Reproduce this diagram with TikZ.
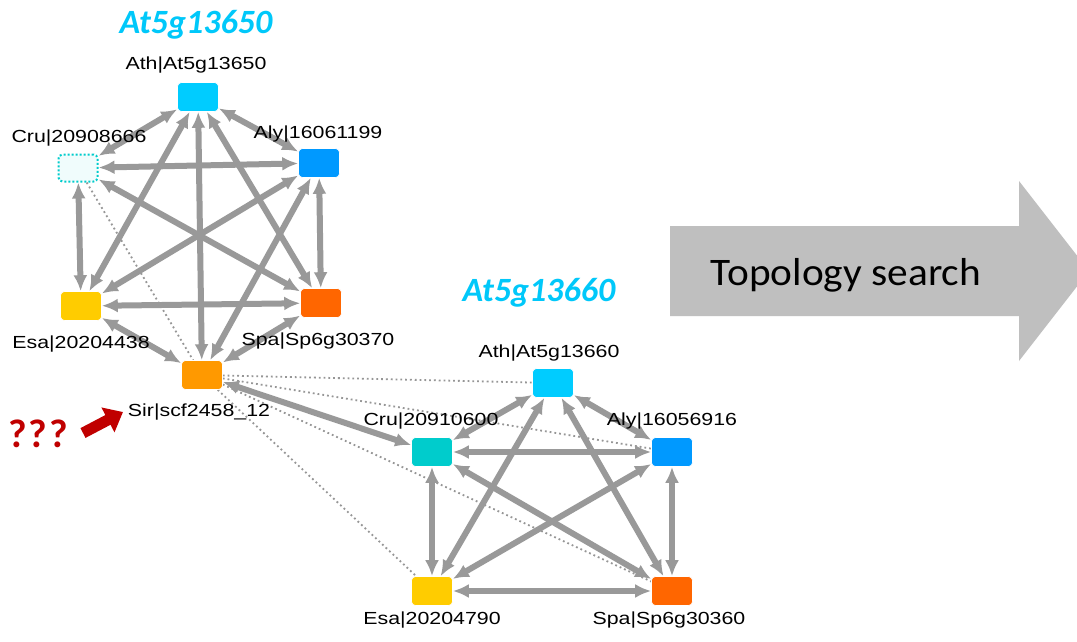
\documentclass[tikz,border=0pt]{standalone}
\usepackage{fontspec}
\setmainfont{Liberation Sans}
\newfontfamily\calib{Carlito}
\usetikzlibrary{arrows.meta}
\pgfdeclarelayer{bgzero}
\pgfdeclarelayer{edgelayer}
\pgfsetlayers{bgzero,edgelayer,main}
\definecolor{athc}{RGB}{0,204,255}
\definecolor{alyc}{RGB}{0,153,255}
\definecolor{cruc}{RGB}{0,204,204}
\definecolor{esac}{RGB}{255,204,0}
\definecolor{spac}{RGB}{255,102,0}
\definecolor{sirc}{RGB}{255,153,0}
\definecolor{edgec}{RGB}{153,153,153}
\definecolor{dotc}{RGB}{150,150,150}
\definecolor{bigarrow}{RGB}{191,191,191}
\definecolor{darkred}{RGB}{192,0,0}
\definecolor{titlec}{RGB}{0,200,250}
\begin{document}
\begin{tikzpicture}[x=1pt,y=-1pt,
  gene/.style={rounded corners=4pt, minimum width=41pt, minimum height=29pt, inner sep=0pt, draw=white, line width=0.6pt},
  lab/.style={anchor=base, inner sep=0pt, xscale=1.22, font=\fontsize{17.5}{20}\selectfont},
  ttl/.style={anchor=base, inner sep=0pt, text=titlec, font=\calib\fontsize{34}{38}\selectfont\bfseries\itshape},
  e/.style={draw=edgec, line width=6pt, {Latex[length=16pt,width=14pt]}-{Latex[length=16pt,width=14pt]}},
  dl/.style={draw=dotc, line width=1.8pt, dash pattern=on 1.8pt off 3pt}
]
\useasboundingbox (0,0) rectangle (1077,641);
\begin{pgfonlayer}{bgzero}
\fill[white] (0,0) rectangle (1077,641);
\end{pgfonlayer}

% big grey arrow
\fill[bigarrow] (670,226) -- (1019,226) -- (1019,181) -- (1089,271) -- (1019,361) -- (1019,316) -- (670,316) -- cycle;
\node[anchor=base, inner sep=0pt, font=\calib\fontsize{39}{44}\selectfont, xscale=1.06] (topo) at (846,285) {Topology search};

% titles
\node[ttl] (t1) at (196,33) {At5g13650};
\node[ttl] (t2) at (539,301) {At5g13660};

% group 1 nodes
\node[gene, fill=athc] (ath1) at (198,97) {};
\node[gene, fill=cruc!6, draw=cruc, dash pattern=on 2pt off 2pt, line width=2pt, minimum width=39pt, minimum height=27pt] (cru1) at (78,168) {};
\node[gene, fill=alyc] (aly1) at (319,163) {};
\node[gene, fill=esac] (esa1) at (81,306) {};
\node[gene, fill=spac] (spa1) at (321,303) {};
\node[gene, fill=sirc] (sir) at (202,375) {};

% group 2 nodes
\node[gene, fill=athc] (ath2) at (553,383) {};
\node[gene, fill=cruc] (cru2) at (432,452) {};
\node[gene, fill=alyc] (aly2) at (672,452) {};
\node[gene, fill=esac] (esa2) at (432,591) {};
\node[gene, fill=spac] (spa2) at (672,591) {};

% labels
\node[lab] (l1) at (196,69) {Ath|At5g13650};
\node[lab] (l2) at (79,142) {Cru|20908666};
\node[lab] (l3) at (318,138) {Aly|16061199};
\node[lab] (l4) at (81,348) {Esa|20204438};
\node[lab] (l5) at (318,345) {Spa|Sp6g30370};
\node[lab] (l6) at (199,416) {Sir|scf2458\_12};
\node[lab] (l7) at (549,357) {Ath|At5g13660};
\node[lab] (l8) at (431,425) {Cru|20910600};
\node[lab] (l9) at (672,425) {Aly|16056916};
\node[lab] (l10) at (432,624) {Esa|20204790};
\node[lab] (l11) at (669,624) {Spa|Sp6g30360};

\begin{pgfonlayer}{edgelayer}
% dotted connectors
\draw[dl] (cru1) -- (sir);
\draw[dl] (sir) -- (ath2);
\draw[dl] (sir) -- (aly2);
\draw[dl] (sir) -- (esa2);
\draw[dl] (sir) -- (spa2);

% group 1 edges
\draw[e] (ath1) -- (cru1);
\draw[e] (ath1) -- (aly1);
\draw[e] (ath1) -- (esa1);
\draw[e] (ath1) -- (spa1);
\draw[e] (ath1) -- (sir);
\draw[e] (cru1) -- (aly1);
\draw[e] (cru1) -- (esa1);
\draw[e] (cru1) -- (spa1);
\draw[e] (aly1) -- (esa1);
\draw[e] (aly1) -- (spa1);
\draw[e] (aly1) -- (sir);
\draw[e] (esa1) -- (spa1);
\draw[e] (esa1) -- (sir);
\draw[e] (spa1) -- (sir);
\draw[e] (sir) -- (cru2);

% group 2 edges
\draw[e] (ath2) -- (cru2);
\draw[e] (ath2) -- (aly2);
\draw[e] (ath2) -- (esa2);
\draw[e] (ath2) -- (spa2);
\draw[e] (cru2) -- (aly2);
\draw[e] (cru2) -- (esa2);
\draw[e] (cru2) -- (spa2);
\draw[e] (aly2) -- (esa2);
\draw[e] (aly2) -- (spa2);
\draw[e] (esa2) -- (spa2);
\end{pgfonlayer}

% question marks and red arrow
\node[anchor=base, inner sep=0pt, text=darkred, font=\calib\fontsize{40}{44}\selectfont\bfseries] (qq) at (38,447) {?\kern2pt?\kern2pt?};
\coordinate (ra) at (83,433);
\coordinate (rb) at (123,412);
\draw[darkred, line width=11pt, -{Triangle[length=17pt,width=27pt]}] (ra) -- (rb);
\end{tikzpicture}
\end{document}
